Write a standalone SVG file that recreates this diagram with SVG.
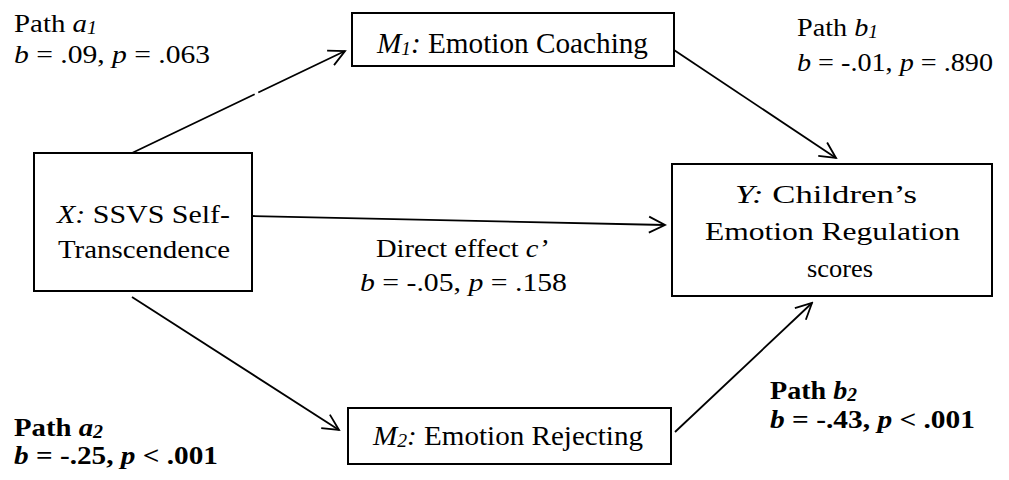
<svg xmlns="http://www.w3.org/2000/svg" width="1009" height="480" viewBox="0 0 1009 480">
<defs>
<style>
.box{fill:#fff;stroke:#000;stroke-width:2}
.ln{fill:none;stroke:#000;stroke-width:1.8}
</style>
<marker id="arr" viewBox="0 0 20 20" refX="18" refY="10" markerWidth="20" markerHeight="20" markerUnits="userSpaceOnUse" orient="auto">
<path d="M2,2 L18,10 L2,18" fill="none" stroke="#000" stroke-width="1.8"/>
</marker>
</defs>
<rect width="1009" height="480" fill="#fff"/>
<g id="connectors">
<line class="ln" x1="132" y1="153" x2="345" y2="51" stroke-dasharray="136 4 300" marker-end="url(#arr)"/>
<line class="ln" x1="674" y1="50" x2="836" y2="158" marker-end="url(#arr)"/>
<line class="ln" x1="252" y1="216" x2="665" y2="225" marker-end="url(#arr)"/>
<line class="ln" x1="132" y1="297" x2="339" y2="430" marker-end="url(#arr)"/>
<line class="ln" x1="675" y1="432" x2="812" y2="303" marker-end="url(#arr)"/>
</g>
<g id="node-x" font-family="Liberation Serif">
<rect class="box" x="34" y="153" width="218" height="138"/>
<text font-size="25" x="57" y="223" textLength="173" lengthAdjust="spacingAndGlyphs"><tspan font-style="italic">X:</tspan> SSVS Self-</text>
<text font-size="25" x="58" y="258" textLength="172" lengthAdjust="spacingAndGlyphs">Transcendence</text>
</g>
<g id="node-m1" font-family="Liberation Serif">
<rect class="box" x="352" y="13" width="322" height="53"/>
<text font-size="29" x="377" y="53" textLength="271" lengthAdjust="spacingAndGlyphs"><tspan font-style="italic">M</tspan><tspan font-style="italic" font-size="19" dy="2">1</tspan><tspan font-style="italic" dy="-2">:</tspan> Emotion Coaching</text>
</g>
<g id="node-m2" font-family="Liberation Serif">
<rect class="box" x="348" y="408" width="323" height="56"/>
<text font-size="28" x="373" y="445" textLength="270" lengthAdjust="spacingAndGlyphs"><tspan font-style="italic">M</tspan><tspan font-style="italic" font-size="19" dy="2">2</tspan><tspan font-style="italic" dy="-2">:</tspan> Emotion Rejecting</text>
</g>
<g id="node-y" font-family="Liberation Serif">
<rect class="box" x="672" y="164" width="320" height="132"/>
<text font-size="26" x="735" y="203" textLength="182" lengthAdjust="spacingAndGlyphs"><tspan font-style="italic">Y:</tspan> Children’s</text>
<text font-size="26" x="705" y="240" textLength="255" lengthAdjust="spacingAndGlyphs">Emotion Regulation</text>
<text font-size="26" x="807" y="277" textLength="66" lengthAdjust="spacingAndGlyphs">scores</text>
</g>
<g id="labels" font-family="Liberation Serif" font-size="26">
<text x="14" y="32" textLength="83" lengthAdjust="spacingAndGlyphs">Path <tspan font-style="italic">a</tspan><tspan font-style="italic" font-size="18" dy="2">1</tspan></text>
<text x="14" y="63" textLength="196" lengthAdjust="spacingAndGlyphs"><tspan font-style="italic">b</tspan> = .09, <tspan font-style="italic">p</tspan> = .063</text>
<text x="797" y="36" textLength="81" lengthAdjust="spacingAndGlyphs">Path <tspan font-style="italic">b</tspan><tspan font-style="italic" font-size="18" dy="2">1</tspan></text>
<text x="797" y="71" textLength="196" lengthAdjust="spacingAndGlyphs"><tspan font-style="italic">b</tspan> = -.01, <tspan font-style="italic">p</tspan> = .890</text>
<text x="376" y="257" textLength="172" lengthAdjust="spacingAndGlyphs">Direct effect <tspan font-style="italic">c’</tspan></text>
<text x="360" y="291" textLength="207" lengthAdjust="spacingAndGlyphs"><tspan font-style="italic">b</tspan> = -.05, <tspan font-style="italic">p</tspan> = .158</text>
<text font-weight="bold" x="14" y="436" textLength="89" lengthAdjust="spacingAndGlyphs">Path <tspan font-style="italic">a</tspan><tspan font-style="italic" font-size="18" dy="2">2</tspan></text>
<text font-weight="bold" x="14" y="464" textLength="204" lengthAdjust="spacingAndGlyphs"><tspan font-style="italic">b</tspan> = -.25, <tspan font-style="italic">p</tspan> &lt; .001</text>
<text font-weight="bold" x="770" y="399" textLength="87" lengthAdjust="spacingAndGlyphs">Path <tspan font-style="italic">b</tspan><tspan font-style="italic" font-size="18" dy="2">2</tspan></text>
<text font-weight="bold" x="770" y="428" textLength="205" lengthAdjust="spacingAndGlyphs"><tspan font-style="italic">b</tspan> = -.43, <tspan font-style="italic">p</tspan> &lt; .001</text>
</g>
</svg>
